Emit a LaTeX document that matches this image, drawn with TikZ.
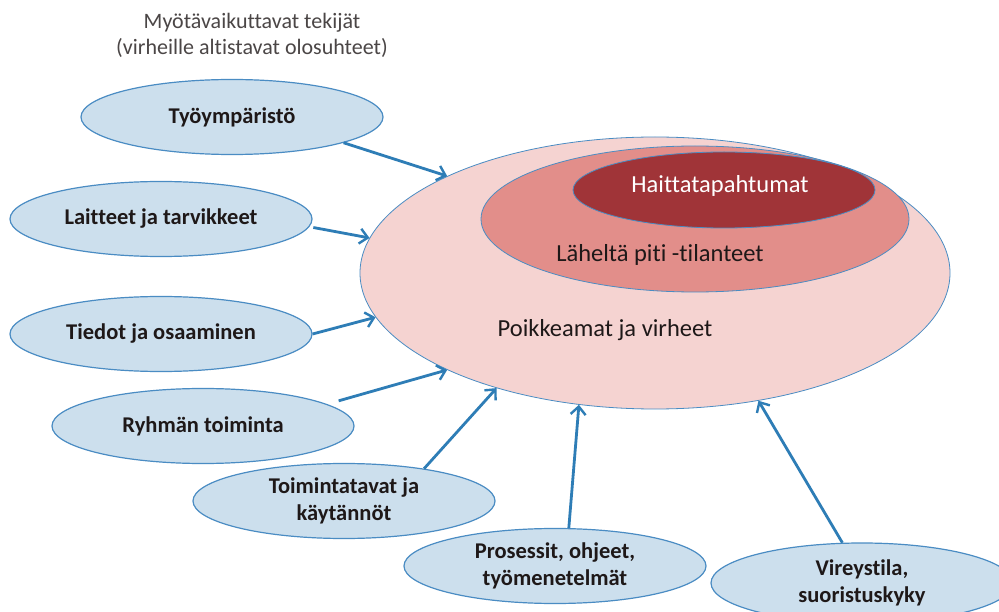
\documentclass[tikz,border=0pt]{standalone}
\usepackage{fontspec}
\setmainfont[Ligatures={NoCommon}]{Carlito}
\usetikzlibrary{shapes.geometric,arrows.meta}
\definecolor{lblue}{RGB}{204,223,237}
\definecolor{bborder}{RGB}{74,140,195}
\definecolor{arrowblue}{RGB}{46,125,182}
\definecolor{pinkA}{RGB}{245,211,209}
\definecolor{pinkB}{RGB}{226,142,138}
\definecolor{redC}{RGB}{160,52,56}
\definecolor{txt}{RGB}{30,24,24}
\begin{document}
\begin{tikzpicture}[x=1pt,y=-1pt,
  factor/.style={ellipse,draw=bborder,line width=1.2pt,fill=lblue,inner sep=0pt,
    minimum width=302pt,minimum height=75pt,align=center,text=txt,
    font=\fontsize{22.5}{26.5}\selectfont\bfseries},
  zone/.style={ellipse,draw=bborder,line width=0.8pt,inner sep=0pt},
  zonelabel/.style={font=\fontsize{24.5}{28}\selectfont,text=txt},
  infl/.style={draw=arrowblue,line width=2.8pt,-{Straight Barb[length=8pt,width=15pt,line width=2.4pt]}}
]
\useasboundingbox (0,0) rectangle (999,612);
\clip (0,0) rectangle (999,612);
\fill[white] (0,0) rectangle (999,612);

% title
\node[align=center,text=txt!80,font=\fontsize{22}{26}\selectfont] (title) at (252,35)
  {Myötävaikuttavat tekijät\\(virheille altistavat olosuhteet)};

% nested zones
\node[zone,fill=pinkA,minimum width=590pt,minimum height=272pt] (big) at (655,273) {};
\node[zone,fill=pinkB,minimum width=428pt,minimum height=146pt] (mid) at (695,219) {};
\node[zone,fill=redC,minimum width=302pt,minimum height=76pt] (inner) at (724,190) {};
\node[zonelabel,text=white] (linner) at (720,186) {Haittatapahtumat};
\node[zonelabel] (lmid) at (660,255) {Läheltä piti -tilanteet};
\node[zonelabel] (lbig) at (605,330) {Poikkeamat ja virheet};

% factors
\node[factor] (f1) at (232,117) {Työympäristö};
\node[factor] (f2) at (161,219) {Laitteet ja tarvikkeet};
\node[factor] (f3) at (161,334) {Tiedot ja osaaminen};
\node[factor] (f4) at (203,426) {Ryhmän toiminta};
\node[factor] (f5) at (344,501) {Toimintatavat ja\\käytännöt};
\node[factor] (f6) at (555,566) {Prosessit, ohjeet,\\työmenetelmät};
\node[factor,minimum height=80pt] (f7) at (862,583) {Vireystila,\\suoristuskyky};

% arrows
\draw[infl] (f1.-13) -- (big.155);
\draw[infl,shorten <=4pt] (f2.-3) -- (big.173);
\draw[infl] (f3.0) -- (big.189);
\draw[infl,shorten <=12pt] (f4.10) -- (big.205);
\draw[infl] (f5.22) -- (big.216);
\draw[infl] (f6.70) -- (big.240);
\draw[infl] (f7.116) -- (big.309);
\end{tikzpicture}
\end{document}
